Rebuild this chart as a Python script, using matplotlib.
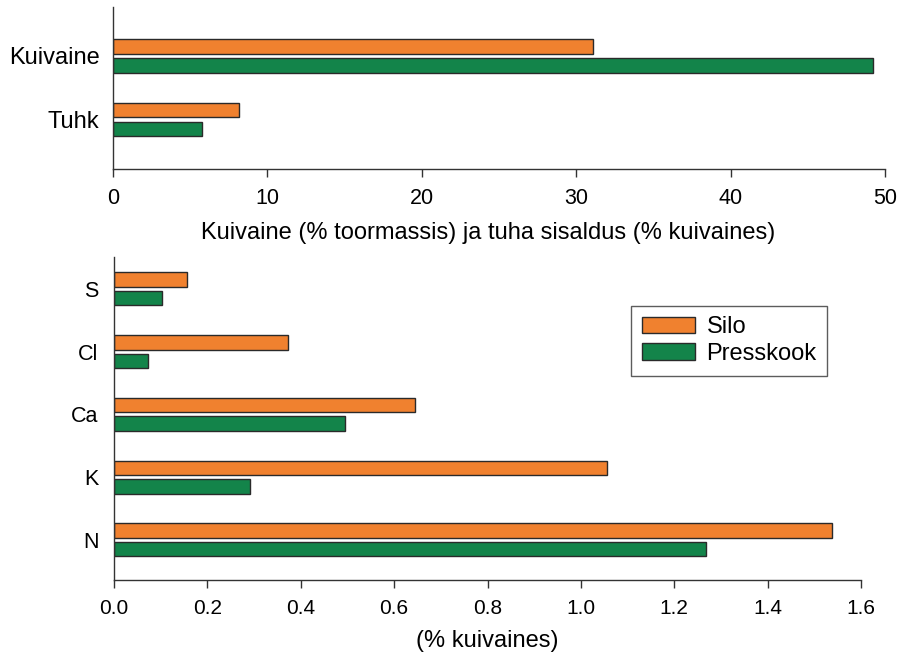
import matplotlib
matplotlib.use("Agg")
import matplotlib.pyplot as plt
import numpy as np

plt.rcParams['font.family'] = ['Liberation Sans', 'DejaVu Sans']

# Top panel data
top_categories = ["Kuivaine", "Tuhk"]
top_silo = [31.1, 8.2]
top_presskook = [49.2, 5.8]
top_xticks = [0, 10, 20, 30, 40, 50]

# Bottom panel data
bot_categories = ["S", "Cl", "Ca", "K", "N"]
bot_silo = [0.157, 0.373, 0.645, 1.055, 1.538]
bot_presskook = [0.102, 0.073, 0.494, 0.291, 1.268]
bot_xticks = [0.0, 0.2, 0.4, 0.6, 0.8, 1.0, 1.2, 1.4, 1.6]

series_names = ["Silo", "Presskook"]
c_silo = "#F0812F"
c_press = "#13844A"
edge = "#2a2a2a"

W, H = 901, 657
fig = plt.figure(figsize=(W / 100, H / 100), dpi=100)

def ax_rect(l, t, r, b):
    return [l / W, 1 - b / H, (r - l) / W, (b - t) / H]

bh = 0.23
off = 0.148

# ---------- top panel ----------
ax1 = fig.add_axes(ax_rect(112.7, 7, 885, 168.5))
n = len(top_categories)
ypos = np.arange(n)[::-1]  # Kuivaine at top
ax1.barh(ypos + off, top_silo, height=bh, color=c_silo, edgecolor=edge, linewidth=1.0)
ax1.barh(ypos - off, top_presskook, height=bh, color=c_press, edgecolor=edge, linewidth=1.0)
ax1.set_xlim(0, 50)
ax1.set_ylim(-0.77, (n - 1) + 0.77)
ax1.set_yticks(ypos)
ax1.set_yticklabels(top_categories, fontsize=17)
ax1.set_xticks(top_xticks)
ax1.set_xticklabels([str(v) for v in top_xticks], fontsize=15.5)
ax1.tick_params(axis='y', length=0, pad=9.5)
ax1.tick_params(axis='x', length=6, width=1, direction='out', pad=8, color='#333333')
ax1.spines['top'].set_visible(False)
ax1.spines['right'].set_visible(False)
for s in ['left', 'bottom']:
    ax1.spines[s].set_color('#333333')
    ax1.spines[s].set_linewidth(1.0)
ax1.set_xlabel("Kuivaine (% toormassis) ja tuha sisaldus (% kuivaines)", fontsize=17, labelpad=5)
ax1.xaxis.set_label_coords(0.4866, -0.33)

# ---------- bottom panel ----------
ax2 = fig.add_axes(ax_rect(114, 257, 861, 580))
m = len(bot_categories)
ypos2 = np.arange(m)[::-1]  # S at top, N at bottom
b1 = ax2.barh(ypos2 + off, bot_silo, height=bh, color=c_silo, edgecolor=edge, linewidth=1.0, label=series_names[0])
b2 = ax2.barh(ypos2 - off, bot_presskook, height=bh, color=c_press, edgecolor=edge, linewidth=1.0, label=series_names[1])
ax2.set_xlim(0, 1.6)
ax2.set_ylim(-0.64, (m - 1) + 0.51)
ax2.set_yticks(ypos2)
ax2.set_yticklabels(bot_categories, fontsize=15.5)
ax2.set_xticks(bot_xticks)
ax2.set_xticklabels([f"{v:.1f}" for v in bot_xticks], fontsize=15)
ax2.tick_params(axis='y', length=0, pad=11)
ax2.tick_params(axis='x', length=6, width=1, direction='out', pad=8, color='#333333')
ax2.spines['top'].set_visible(False)
ax2.spines['right'].set_visible(False)
for s in ['left', 'bottom']:
    ax2.spines[s].set_color('#333333')
    ax2.spines[s].set_linewidth(1.0)
ax2.set_xlabel("(% kuivaines)", fontsize=17, labelpad=8)

leg = ax2.legend(handles=[b1, b2], loc='upper left',
                 bbox_to_anchor=((631 - 114) / (861 - 114), 1 - (305.7 - 257) / (580 - 257)),
                 fontsize=17, frameon=True, fancybox=False, edgecolor='#333333',
                 handlelength=2.25, handleheight=0.72, handletextpad=0.5,
                 borderpad=0.45, labelspacing=0.2, borderaxespad=0)
leg.get_frame().set_linewidth(1.0)

fig.savefig("out.png", dpi=100)
